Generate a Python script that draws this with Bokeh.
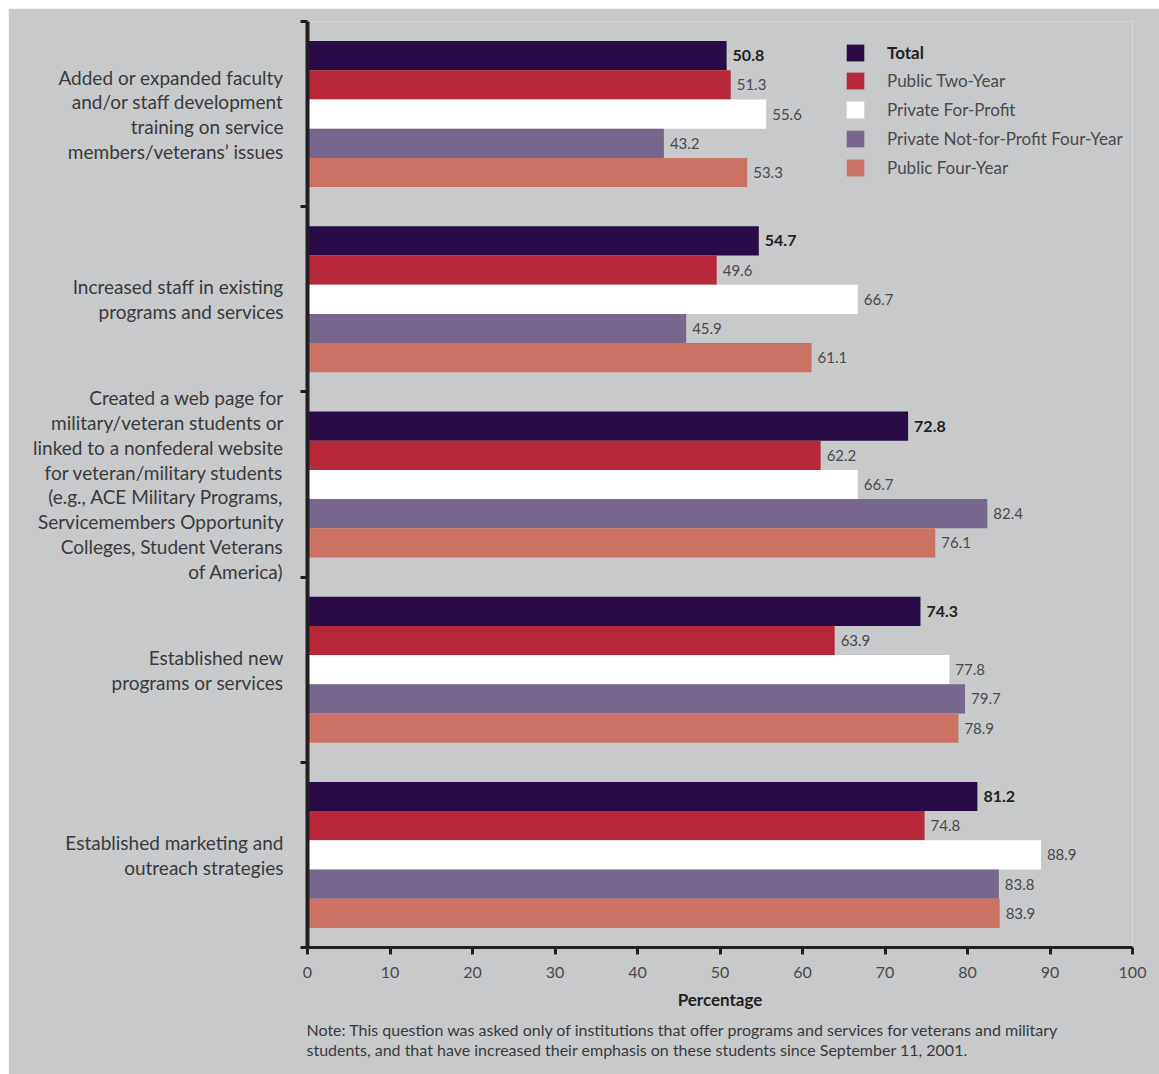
from bokeh.plotting import figure
from bokeh.models import (ColumnDataSource, Range1d, FixedTicker, LabelSet,
                          Legend, LegendItem, Title)
from bokeh.core.properties import value
from bokeh.embed import file_html
from bokeh.resources import INLINE

# ---------------- data ----------------
categories = [
    ["Added or expanded faculty", "and/or staff development", "training on service",
     "members/veterans\u2019 issues"],
    ["Increased staff in existing", "programs and services"],
    ["Created a web page for", "military/veteran students or", "linked to a nonfederal website",
     "for veteran/military students", "(e.g., ACE Military Programs,", "Servicemembers Opportunity",
     "Colleges, Student Veterans", "of America)"],
    ["Established new", "programs or services"],
    ["Established marketing and", "outreach strategies"],
]
series = ["Total", "Public Two-Year", "Private For-Profit",
          "Private Not-for-Profit Four-Year", "Public Four-Year"]
total = [50.8, 54.7, 72.8, 74.3, 81.2]
public_two_year = [51.3, 49.6, 62.2, 63.9, 74.8]
private_for_profit = [55.6, 66.7, 66.7, 77.8, 88.9]
private_nfp_four_year = [43.2, 45.9, 82.4, 79.7, 83.8]
public_four_year = [53.3, 61.1, 76.1, 78.9, 83.9]
x_ticks = [0, 10, 20, 30, 40, 50, 60, 70, 80, 90, 100]
x_label = "Percentage"
note_lines = [
    "Note: This question was asked only of institutions that offer programs and services for veterans and military",
    "students, and that have increased their emphasis on these students since September 11, 2001.",
]

values = [total, public_two_year, private_for_profit, private_nfp_four_year, public_four_year]
colors = ["#290b48", "#b7283a", "#ffffff", "#77678c", "#cc7264"]

BG = "#c8c9cb"
AX = "#231f20"
TXT = "#3a3a3c"
FONT = "Lato"

n_cat = len(categories)
bar_h = 0.1577

p = figure(width=1151, height=1066, x_range=Range1d(0, 100), y_range=Range1d(n_cat, 0),
           output_backend="svg", toolbar_location=None,
           min_border_left=299, min_border_right=27, min_border_top=13, min_border_bottom=127,
           background_fill_color=BG, border_fill_color=BG, outline_line_color=None,
           margin=(8, 0, 0, 8))
p.grid.visible = False

# y axis: labels at category centres, short ticks at category boundaries
centres = [i + 0.5 for i in range(n_cat)]
p.yaxis.ticker = FixedTicker(ticks=centres, minor_ticks=list(range(n_cat + 1)))
p.yaxis.major_label_overrides = {c: "\n".join(lines) for c, lines in zip(centres, categories)}
p.yaxis.major_label_text_font = FONT
p.yaxis.major_label_text_font_size = "19px"
p.yaxis.major_label_text_color = TXT
p.yaxis.major_label_text_line_height = 1.075
p.yaxis.major_label_text_align = "right"
p.yaxis.major_label_standoff = 17
p.yaxis.major_tick_in = 0
p.yaxis.major_tick_out = 0
p.yaxis.minor_tick_in = 0
p.yaxis.minor_tick_out = 7
p.yaxis.minor_tick_line_width = 3
p.yaxis.minor_tick_line_color = AX
p.yaxis.axis_line_width = 4
p.yaxis.axis_line_color = AX

# x axis
p.xaxis.ticker = FixedTicker(ticks=x_ticks)
p.xaxis.axis_line_width = 3
p.xaxis.axis_line_color = AX
p.xaxis.major_tick_in = 0
p.xaxis.major_tick_out = 7
p.xaxis.major_tick_line_width = 3
p.xaxis.major_tick_line_color = AX
p.xaxis.minor_tick_line_color = None
p.xaxis.major_label_text_font = FONT
p.xaxis.major_label_text_font_size = "16px"
p.xaxis.major_label_text_color = "#4a4a4c"
p.xaxis.major_label_standoff = 12
p.xaxis.axis_label = x_label
p.xaxis.axis_label_text_font = FONT
p.xaxis.axis_label_text_font_size = "17px"
p.xaxis.axis_label_text_font_style = "bold"
p.xaxis.axis_label_text_color = AX
p.xaxis.axis_label_standoff = 8

renderers = []
for j, (name, vals, col) in enumerate(zip(series, values, colors)):
    ys = [i + 0.5 + (j - 2) * bar_h for i in range(n_cat)]
    src = ColumnDataSource(dict(y=ys, v=vals, t=["%.1f" % v for v in vals]))
    r = p.hbar(y="y", left=0, right="v", height=bar_h, source=src,
               fill_color=col, line_color=None)
    renderers.append(r)
    ls = LabelSet(x="v", y="y", text="t", source=src, x_offset=6,
                  text_baseline="middle", text_font=value(FONT),
                  text_font_size=value("16px" if j == 0 else "15px"),
                  text_font_style=value("bold" if j == 0 else "normal"),
                  text_color=value(AX if j == 0 else "#4a4a4c"))
    p.add_layout(ls)

# note below the axis
note = Title(text="\n".join(note_lines), align="left", text_font=FONT, text_font_size="16px",
             text_font_style="normal", text_color=TXT, text_line_height=1.04,
             standoff=11, offset=-1)
p.add_layout(note, "below")

# legends
common = dict(padding=0, margin=0, border_line_color=None, background_fill_alpha=0,
              glyph_width=22, glyph_height=21, label_height=21, label_standoff=21,
              label_text_font=FONT, label_text_font_size="17px", spacing=8,
              label_text_baseline="middle")
leg1 = Legend(items=[LegendItem(label=series[0], renderers=[renderers[0]])],
              location=(537, 884), label_text_font_style="bold",
              label_text_color=AX, **common)
leg2 = Legend(items=[LegendItem(label=s, renderers=[r]) for s, r in zip(series[1:], renderers[1:])],
              location=(537, 769), label_text_color="#4a4a4c", **common)
p.add_layout(leg1)
p.add_layout(leg2)

open("out.html", "w").write(file_html(p, INLINE))
